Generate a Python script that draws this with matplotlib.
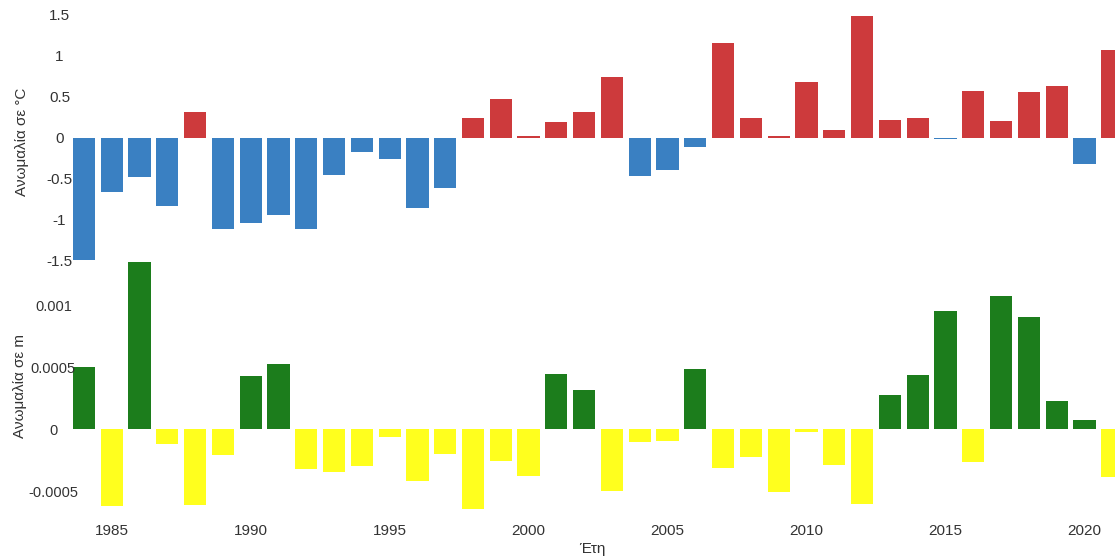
import matplotlib
matplotlib.use('Agg')
import matplotlib.pyplot as plt
import numpy as np

years = list(range(1984, 2022))

# temperature anomaly (°C)
temp = [-1.50, -0.67, -0.48, -0.83, 0.31, -1.12, -1.04, -0.94, -1.11, -0.46,
        -0.18, -0.26, -0.86, -0.62, 0.24, 0.47, 0.02, 0.19, 0.31, 0.74,
        -0.47, -0.40, -0.11, 1.16, 0.24, 0.02, 0.68, 0.09, 1.48, 0.21,
        0.24, -0.02, 0.57, 0.20, 0.56, 0.63, -0.32, 1.07]

# sea level anomaly (m)
sea = [0.000503, -0.000617, 0.001353, -0.000122, -0.000609, -0.000209, 0.000432,
       0.00053, -0.000318, -0.000345, -0.000299, -0.00006, -0.000418, -0.000198,
       -0.000644, -0.000255, -0.000372, 0.000443, 0.000318, -0.000497, -0.0001,
       -0.000095, 0.000489, -0.000313, -0.000223, -0.000508, -0.00002, -0.000291,
       -0.000603, 0.000277, 0.00044, 0.000954, -0.000264, 0.001076, 0.000905,
       0.000226, 0.000076, -0.00038]

temp_ticks = [1.5, 1, 0.5, 0, -0.5, -1, -1.5]
temp_labels = ['1.5', '1', '0.5', '0', '-0.5', '-1', '-1.5']
sea_ticks = [0.001, 0.0005, 0, -0.0005]
sea_labels = ['0.001', '0.0005', '0', '-0.0005']
year_ticks = [1985, 1990, 1995, 2000, 2005, 2010, 2015, 2020]

plt.rcParams['font.family'] = ['Liberation Sans', 'DejaVu Sans']
txt = '#333333'

fig = plt.figure(figsize=(11.15, 5.6), dpi=100)
ax1 = fig.add_axes([0.0628, 0.532, 0.9372, 0.468])
ax2 = fig.add_axes([0.0628, 0.0893, 0.9372, 0.443])

tcol = ['#cd3a3c' if v > 0 else '#3a80c2' for v in temp]
scol = ['#1c7d1c' if v > 0 else '#ffff1e' for v in sea]

ax1.bar(years, temp, width=0.8, color=tcol)
ax2.bar(years, sea, width=0.8, color=scol)

for ax in (ax1, ax2):
    ax.set_xlim(1983.5, 2021.1)
    for s in ax.spines.values():
        s.set_visible(False)
    ax.tick_params(length=0, labelsize=11, labelcolor=txt)
    ax.set_facecolor('none')

ax1.set_ylim(-1.52, 1.68)
ax1.set_yticks(temp_ticks)
ax1.set_yticklabels(temp_labels, ha='center')
ax1.tick_params(axis='y', pad=7.5)
ax1.set_xticks([])
ax1.set_ylabel('Ανωμαλία σε °C', fontsize=11, color=txt)
ax1.yaxis.set_label_coords(-0.039, 0.46)

ax2.set_ylim(-0.00065, 0.00135)
ax2.set_yticks(sea_ticks)
ax2.set_yticklabels(sea_labels, ha='center', fontsize=10.5)
ax2.tick_params(axis='y', pad=12)
ax2.set_xticks(year_ticks)
ax2.set_xticklabels([str(y) for y in year_ticks])
ax2.tick_params(axis='x', pad=10)
ax2.set_ylabel('Ανωμαλία σε m', fontsize=11, color=txt)
ax2.yaxis.set_label_coords(-0.041, 0.5)
ax2.set_xlabel('Έτη', fontsize=11, color=txt, labelpad=3)

fig.savefig('out.png', dpi=100)
